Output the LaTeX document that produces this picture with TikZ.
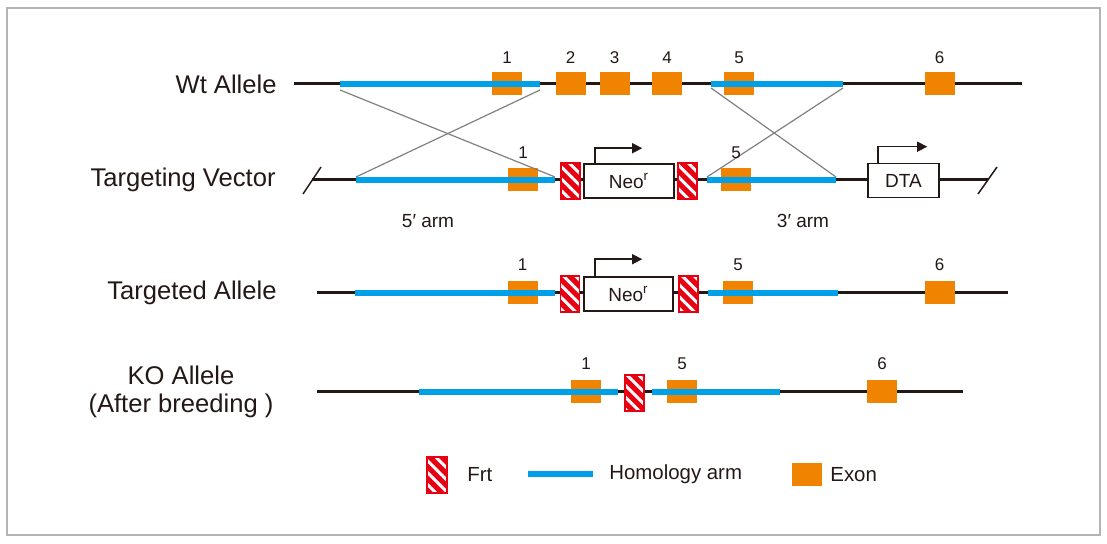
\documentclass[tikz,border=0pt]{standalone}
\usepackage{fontspec}
\setmainfont{Liberation Sans}
\usetikzlibrary{positioning,arrows.meta,patterns.meta}
\definecolor{ArmBlue}{HTML}{00A0E9}
\definecolor{ExonOrange}{HTML}{F08300}
\definecolor{FrtRed}{HTML}{E60012}
\definecolor{DnaBlack}{HTML}{231815}
\definecolor{CrossGray}{HTML}{808080}
\definecolor{FrameGray}{HTML}{B4B4B4}

\begin{document}
\begin{tikzpicture}[x=0.5pt,y=-0.5pt,
    dna/.style={line width=1.5pt,DnaBlack},
    arm/.style={line width=3pt,ArmBlue},
    cross/.style={line width=0.6pt,CrossGray},
    slash/.style={line width=0.75pt,DnaBlack},
    exon/.style={fill=ExonOrange,inner sep=0pt,minimum width=15pt,minimum height=11.5pt},
    frt/.style={draw=FrtRed,line width=0.9pt,inner sep=0pt,minimum width=9.5pt,minimum height=18pt,
      preaction={fill=FrtRed},pattern={Lines[angle=-45,distance=4.2pt,line width=1.5pt]},pattern color=white},
    cassette/.style={draw=DnaBlack,fill=white,line width=0.8pt,inner sep=0pt,minimum height=17pt,
      text=DnaBlack,font=\fontsize{9.5}{11}\selectfont},
    prom/.style={line width=0.75pt,DnaBlack,-{Triangle[length=5pt,width=5pt]}},
    num/.style={inner sep=0pt,text=DnaBlack,font=\fontsize{8.5}{10}\selectfont},
    rowname/.style={anchor=east,inner sep=0pt,text=DnaBlack,font=\fontsize{12.8}{14}\selectfont},
    small/.style={inner sep=0pt,text=DnaBlack,font=\fontsize{9.5}{11}\selectfont},
    legend/.style={anchor=west,inner sep=0pt,text=DnaBlack,font=\fontsize{10.2}{12}\selectfont}]
  \useasboundingbox (0,0) rectangle (1107,544);
  % frame
  \draw[FrameGray,line width=0.75pt] (7,8) rectangle (1100,535);

  % Wt allele
  \node[rowname] (wtname) at (277,84) {Wt Allele};
  \coordinate (wtA) at (294,84);
  \coordinate (wtB) at (1022,84);
  \draw[dna] (wtA) -- (wtB);
  \foreach \n/\x in {1/507,2/570.5,3/614.5,4/667,5/739,6/939.5}{
    \node[exon] (wt\n) at (\x,84) {};
    \node[num,above=4pt of wt\n] (wtnum\n) {\n};
  }
  \coordinate (wtL1) at (340,84);
  \coordinate (wtL2) at (540,84);
  \coordinate (wtR1) at (711,84);
  \coordinate (wtR2) at (843,84);
  \draw[arm] (wtL1) -- (wtL2);
  \draw[arm] (wtR1) -- (wtR2);

  % Targeting vector
  \node[rowname] (tvname) at (276,180) {Targeting Vector};
  \coordinate (tvA) at (312,180);
  \coordinate (tvB) at (988,180);
  \draw[dna] (tvA) -- (tvB);
  \draw[slash] ([shift={(-4.5pt,-7pt)}]tvA) -- ([shift={(4.5pt,6.5pt)}]tvA);
  \draw[slash] ([shift={(-5pt,-7pt)}]tvB) -- ([shift={(4.5pt,6.5pt)}]tvB);
  \node[exon] (tv1) at (523,180) {};
  \node[exon] (tv5) at (736,180) {};
  \coordinate (tvL1) at (356,180);
  \coordinate (tvL2) at (555,180);
  \coordinate (tvR1) at (707,180);
  \coordinate (tvR2) at (836,180);
  \draw[arm] (tvL1) -- (tvL2);
  \draw[arm] (tvR1) -- (tvR2);
  \node[frt] (tvfrt1) at (570.5,181) {};
  \node[cassette,minimum width=45pt] (tvneo) at (629,181) {Neo\textsuperscript{r}};
  \node[frt] (tvfrt2) at (687.5,181) {};
  \node[cassette,minimum width=35.5pt] (tvdta) at (903.5,180.5) {DTA};
  \draw[prom] ([xshift=6pt]tvneo.north west) |- ++(47,-15);
  \draw[prom] ([xshift=5.5pt]tvdta.north west) |- ++(49,-16);

  % crossing over
  \draw[cross] ([yshift=-3pt]wtL1) -- ([yshift=1.5pt]tvL2);
  \draw[cross] ([yshift=-3pt]wtL2) -- ([yshift=1.5pt]tvL1);
  \draw[cross] ([yshift=-2pt]wtR1) -- ([yshift=1.5pt]tvR2);
  \draw[cross] ([yshift=-2pt]wtR2) -- ([yshift=1.5pt]tvR1);
  \node[num,above=4.5pt of tv1] (tvnum1) {1};
  \node[num,above=4.5pt of tv5] (tvnum5) {5};
  \node[small] (arm5) at (428,221) {5′ arm};
  \node[small] (arm3) at (803,221) {3′ arm};

  % Targeted allele
  \node[rowname] (taname) at (277,293) {Targeted Allele};
  \coordinate (taA) at (317,293);
  \coordinate (taB) at (1008,293);
  \draw[dna] (taA) -- (taB);
  \foreach \n/\x in {1/522.5,5/738,6/939.5}{
    \node[exon] (ta\n) at (\x,293) {};
    \node[num,above=5pt of ta\n] (tanum\n) {\n};
  }
  \coordinate (taL1) at (355,293);
  \coordinate (taL2) at (555,293);
  \coordinate (taR1) at (708,293);
  \coordinate (taR2) at (838,293);
  \draw[arm] (taL1) -- (taL2);
  \draw[arm] (taR1) -- (taR2);
  \node[frt] (tafrt1) at (570,294) {};
  \node[cassette,minimum width=44.5pt] (taneo) at (628.5,294) {Neo\textsuperscript{r}};
  \node[frt] (tafrt2) at (688.5,294) {};
  \draw[prom] ([xshift=6pt]taneo.north west) |- ++(47,-17);

  % KO allele
  \node[rowname,anchor=center,align=center] (koname) at (181,392) {KO Allele\\(After breeding )};
  \coordinate (koA) at (317,392);
  \coordinate (koB) at (963,392);
  \draw[dna] (koA) -- (koB);
  \foreach \n/\x in {1/586,5/682,6/882}{
    \node[exon] (ko\n) at (\x,392) {};
    \node[num,above=5pt of ko\n] (konum\n) {\n};
  }
  \coordinate (koL1) at (419,392);
  \coordinate (koL2) at (618,392);
  \coordinate (koR1) at (652,392);
  \coordinate (koR2) at (780,392);
  \draw[arm] (koL1) -- (koL2);
  \draw[arm] (koR1) -- (koR2);
  \node[frt] (kofrt) at (634.5,393) {};

  % legend
  \node[frt,minimum width=10pt] (lgfrt) at (437,475) {};
  \node[legend] (lgfrtname) at (467,475) {Frt};
  \coordinate (lgA) at (528,474);
  \coordinate (lgB) at (593,474);
  \draw[arm] (lgA) -- (lgB);
  \node[legend] (lgarmname) at (609,474) {Homology arm};
  \node[exon] (lgexon) at (807,474.5) {};
  \node[legend] (lgexonname) at (830,475) {Exon};
\end{tikzpicture}
\end{document}
